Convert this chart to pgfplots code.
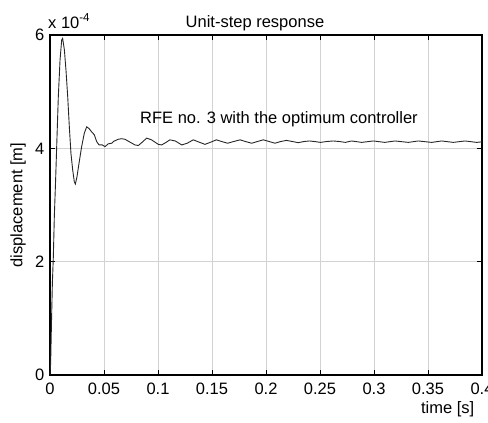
\documentclass[border=0pt]{standalone}
\usepackage{fontspec}
\setmainfont{Liberation Sans}
\usepackage{pgfplots}
\pgfplotsset{compat=1.18}

\begin{document}
\fontsize{16.5bp}{19bp}\selectfont
\begin{tikzpicture}
  \begin{axis}[name=ax, scale only axis, width=432bp, height=340bp,
    xmin=0, xmax=0.4, ymin=0, ymax=6e-4,
    xtick={0,0.05,0.1,0.15,0.2,0.25,0.3,0.35,0.4},
    xticklabels={0,0.05,0.1,0.15,0.2,0.25,0.3,0.35,0.4},
    ytick={0,2e-4,4e-4,6e-4}, yticklabels={0,2,4,6},
    scaled x ticks=false, scaled y ticks=false,
    /pgf/number format/assume math mode=true,
    tick align=inside, major tick length=5bp,
    tick style={black, line width=0.8bp},
    axis line style={line width=1.3bp},
    grid=major, major grid style={gray!35, line width=0.5bp},
    xticklabel style={yshift=-2bp},
    ylabel={displacement [m]},
    ylabel style={at={(rel axis cs:0,0.5)}, anchor=center, rotate=0, yshift=32bp},
    xlabel={time [s]},
    xlabel style={at={(rel axis cs:1,0)}, anchor=base east, xshift=-2bp, yshift=-38bp},
    clip=false]

    % unit-step response
    \addplot[black!85, line width=0.9bp, sharp plot] coordinates {
      (0,0)(0.0006,0.21e-4)(0.0015,1.03e-4)(0.0022,1.62e-4)(0.0031,2.09e-4)
      (0.0040,2.79e-4)(0.0052,3.44e-4)(0.0065,4.21e-4)(0.0077,4.91e-4)
      (0.0093,5.56e-4)(0.0108,5.91e-4)(0.0117,5.94e-4)(0.0133,5.74e-4)
      (0.0148,5.38e-4)(0.0164,4.91e-4)(0.0179,4.38e-4)(0.0194,3.91e-4)
      (0.0210,3.62e-4)(0.0225,3.41e-4)(0.0235,3.37e-4)(0.0250,3.50e-4)
      (0.0269,3.74e-4)(0.0293,4.03e-4)(0.0318,4.27e-4)(0.0340,4.38e-4)
      (0.0361,4.35e-4)(0.0386,4.29e-4)(0.0410,4.24e-4)(0.0432,4.12e-4)
      (0.0454,4.06e-4)(0.0484,4.06e-4)(0.0509,4.03e-4)(0.0540,4.08e-4)
      (0.0571,4.09e-4)(0.0587,4.12e-4)(0.0630,4.16e-4)(0.0665,4.17e-4)
      (0.0694,4.16e-4)(0.0740,4.11e-4)(0.0787,4.06e-4)(0.0818,4.05e-4)
      (0.0855,4.11e-4)(0.0895,4.18e-4)(0.0940,4.15e-4)(0.1003,4.07e-4)
      (0.1034,4.06e-4)(0.1070,4.10e-4)(0.1110,4.15e-4)(0.1160,4.13e-4)
      (0.1220,4.06e-4)(0.1270,4.09e-4)(0.1327,4.15e-4)(0.1380,4.11e-4)
      (0.1435,4.07e-4)(0.1490,4.11e-4)(0.1540,4.15e-4)(0.1590,4.12e-4)
      (0.1645,4.09e-4)(0.1700,4.12e-4)(0.1760,4.15e-4)(0.1810,4.12e-4)
      (0.1867,4.09e-4)(0.1920,4.12e-4)(0.1975,4.15e-4)(0.2030,4.12e-4)
      (0.2083,4.09e-4)(0.2135,4.12e-4)(0.2190,4.14e-4)(0.2245,4.12e-4)
      (0.2299,4.10e-4)(0.2350,4.12e-4)(0.2401,4.13e-4)(0.2450,4.12e-4)
      (0.2505,4.105e-4)(0.2560,4.12e-4)(0.2623,4.13e-4)(0.2680,4.12e-4)
      (0.2735,4.105e-4)(0.2793,4.13e-4)(0.2886,4.105e-4)(0.2994,4.13e-4)
      (0.3100,4.105e-4)(0.3194,4.13e-4)(0.3318,4.105e-4)(0.3410,4.13e-4)
      (0.3534,4.105e-4)(0.3627,4.13e-4)(0.3734,4.105e-4)(0.3843,4.13e-4)
      (0.3951,4.105e-4)(0.4,4.115e-4)};

    \node[anchor=base] at (rel axis cs:0.53,0.741) {RFE no. 3 with the optimum controller};
    \node[anchor=base] at (rel axis cs:0.4745,1) [yshift=8bp] {Unit-step response};
    \node[anchor=base west, inner sep=0pt] at (rel axis cs:0,1) [xshift=-2bp, yshift=7bp] {x 10\textsuperscript{-4}};
  \end{axis}
  \pgfresetboundingbox
  \path[use as bounding box] ([xshift=-50bp,yshift=-48bp]ax.south west)
    rectangle ([xshift=6bp,yshift=35bp]ax.north east);
\end{tikzpicture}
\end{document}
